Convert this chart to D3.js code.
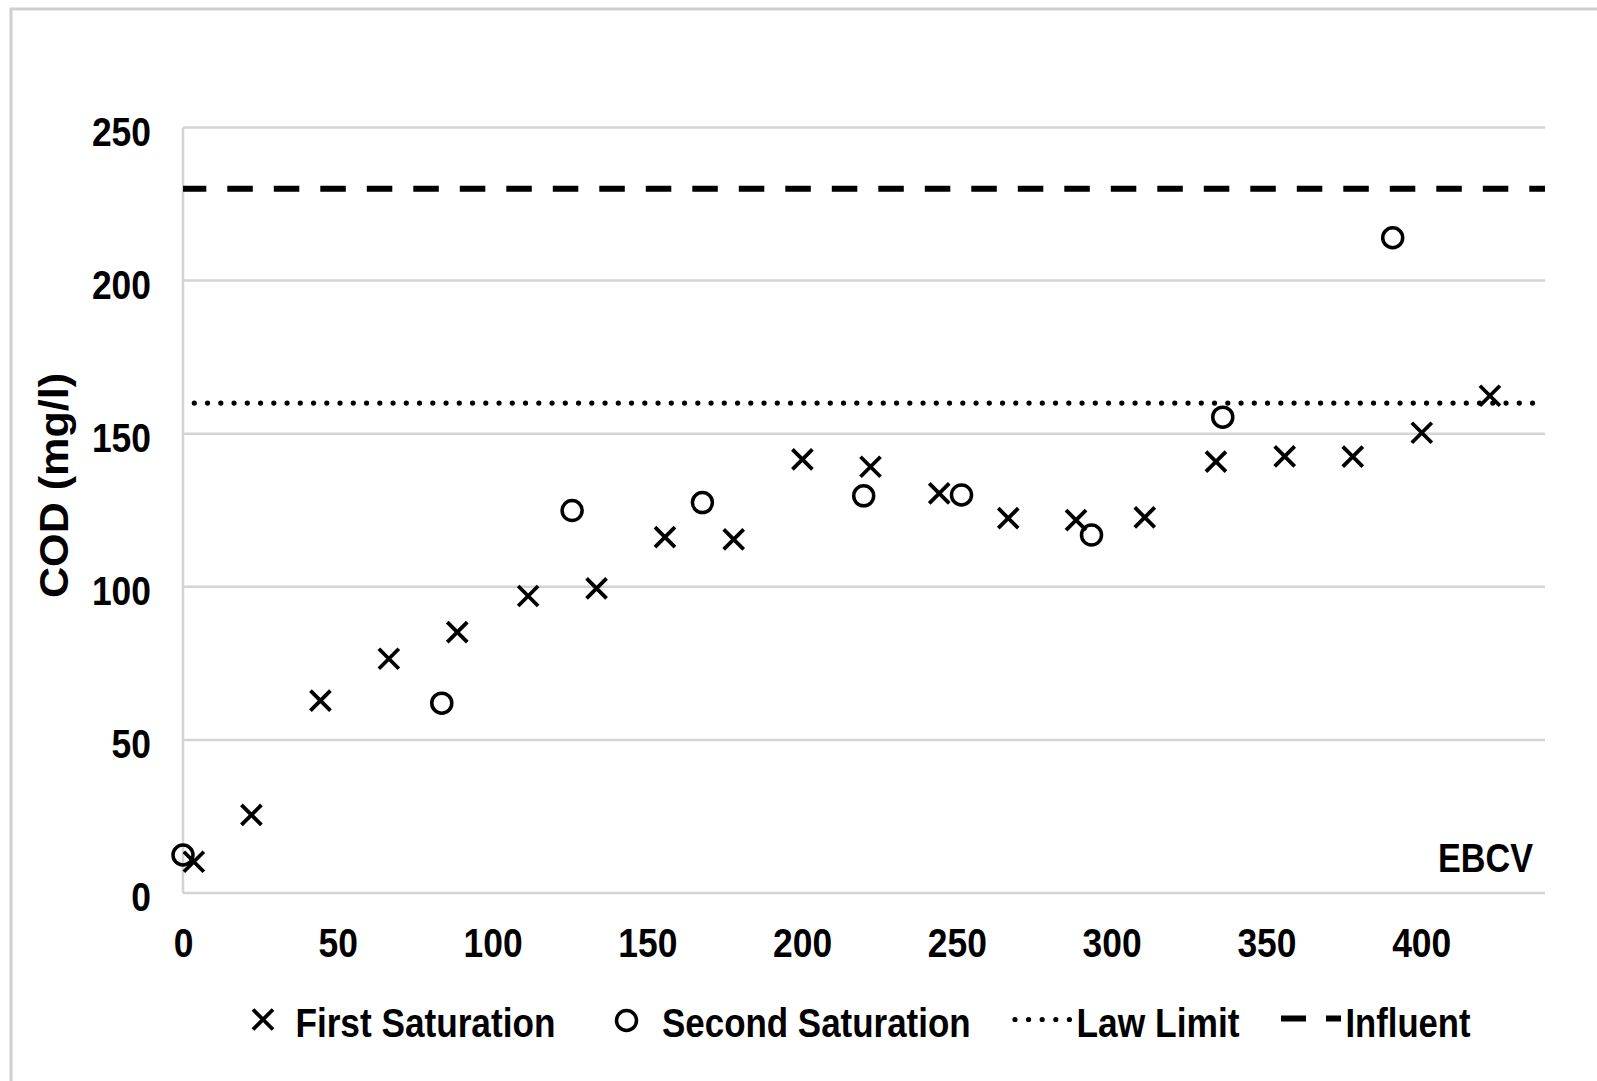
<!DOCTYPE html>
<html>
<head>
<meta charset="utf-8">
<script src="https://cdn.jsdelivr.net/npm/d3@7"></script>
<style>
  html, body { margin: 0; padding: 0; background: #fff; }
  svg { display: block; }
  text { font-family: "Liberation Sans", Arial, sans-serif; font-weight: bold; fill: #000; }
</style>
</head>
<body>
<svg id="chart" width="1597" height="1081"></svg>
<script>
// EBCV (bed volumes) vs. effluent COD for the two saturation runs
const firstX  = [3.5, 22.1, 44.4, 66.5, 88.6, 111.5, 133.6, 155.7, 177.9, 200.1, 222.1, 244.3, 266.6, 288.5, 310.7, 333.7, 355.9, 377.9, 400.2, 422.2];
const firstY  = [10.2, 25.5, 62.8, 76.5, 85.2, 97.0, 99.5, 116.2, 115.5, 141.6, 139.2, 130.5, 122.4, 121.8, 122.7, 140.9, 142.6, 142.5, 150.3, 162.4];
const secondX = [0, 83.6, 125.7, 167.8, 219.9, 251.5, 293.5, 335.9, 390.8];
const secondY = [12.4, 62.0, 124.9, 127.5, 129.7, 130.0, 116.9, 155.4, 214.0];
const lawLimit = 160;
const influent = 230;
const xTicks = [0, 50, 100, 150, 200, 250, 300, 350, 400];
const yTicks = [0, 50, 100, 150, 200, 250];
const legendLabels = ["First Saturation", "Second Saturation", "Law Limit", "Influent"];
const yTitle = "COD (mg/l)";
const cornerLabel = "EBCV";

const svg = d3.select("#chart");
const GRID = "#d4d4d4";
const plotLeft = 183, plotRight = 1545, plotTop = 127.5, plotBottom = 893;

const x = d3.scaleLinear().domain([0, 440]).range([plotLeft, plotRight]);
const y = d3.scaleLinear().domain([0, 250]).range([plotBottom, plotTop]);

// narrow the bold face horizontally, like a condensed typeface
function condense(sel, factor) {
  sel.each(function () {
    const w = this.getComputedTextLength();
    d3.select(this).attr("textLength", w * factor).attr("lengthAdjust", "spacingAndGlyphs");
  });
}

svg.append("rect").attr("width", 1597).attr("height", 1081).attr("fill", "#fff");

// frame (only top and left edges fall inside the canvas)
svg.append("rect")
  .attr("x", 11).attr("y", 9).attr("width", 2000).attr("height", 2000)
  .attr("fill", "none").attr("stroke", "#cfcfcf").attr("stroke-width", 3);

// horizontal gridlines
svg.append("g").selectAll("line").data(yTicks).join("line")
  .attr("x1", plotLeft).attr("x2", plotRight)
  .attr("y1", d => y(d)).attr("y2", d => y(d))
  .attr("stroke", GRID).attr("stroke-width", 2.5);

// vertical axis line
svg.append("line")
  .attr("x1", plotLeft).attr("x2", plotLeft).attr("y1", y(0)).attr("y2", y(250))
  .attr("stroke", GRID).attr("stroke-width", 2.5);

// axes (labels only)
const gx = svg.append("g").attr("transform", `translate(0,${plotBottom})`)
  .call(d3.axisBottom(x).tickValues(xTicks).tickSize(0).tickPadding(35.3));
gx.select(".domain").remove();
gx.selectAll("text").attr("font-size", 40).attr("font-family", "Liberation Sans, Arial, sans-serif")
  .attr("font-weight", "bold").attr("fill", "#000");

const gy = svg.append("g").attr("transform", `translate(${plotLeft},0)`)
  .call(d3.axisLeft(y).tickValues(yTicks).tickSize(0).tickPadding(32));
gy.select(".domain").remove();
gy.selectAll("text").attr("font-size", 40).attr("dy", "0.44em")
  .attr("font-family", "Liberation Sans, Arial, sans-serif")
  .attr("font-weight", "bold").attr("fill", "#000");

condense(gx.selectAll("text"), 0.885);
condense(gy.selectAll("text"), 0.885);

// y-axis title
svg.append("text")
  .attr("transform", `translate(68,485.5) rotate(-90)`)
  .attr("text-anchor", "middle").attr("font-size", 40)
  .attr("textLength", 225).attr("lengthAdjust", "spacingAndGlyphs")
  .text(yTitle);

// corner label
svg.append("text")
  .attr("x", 1533).attr("y", 872).attr("text-anchor", "end").attr("font-size", 40)
  .attr("textLength", 95).attr("lengthAdjust", "spacingAndGlyphs")
  .text(cornerLabel);

// reference lines
const refLine = d3.line().x(d => x(d[0])).y(d => y(d[1]));
svg.append("path")
  .attr("d", refLine([[0, influent], [440, influent]]))
  .attr("stroke", "#000").attr("stroke-width", 6).attr("fill", "none")
  .attr("stroke-dasharray", "25.5 21").attr("stroke-dashoffset", 2.2);
svg.append("path")
  .attr("d", refLine([[0, lawLimit], [440, lawLimit]]))
  .attr("stroke", "#000").attr("stroke-width", 5.2).attr("fill", "none")
  .attr("stroke-linecap", "round")
  .attr("stroke-dasharray", "0 13.25").attr("stroke-dashoffset", 1.95);

// markers
const arm = 10;
function crossPath(cx, cy) {
  return `M${cx - arm},${cy - arm}L${cx + arm},${cy + arm}M${cx - arm},${cy + arm}L${cx + arm},${cy - arm}`;
}
const first = firstX.map((v, i) => ({ x: v, y: firstY[i] }));
const second = secondX.map((v, i) => ({ x: v, y: secondY[i] }));

svg.append("g").selectAll("path").data(first).join("path")
  .attr("d", d => crossPath(x(d.x), y(d.y)))
  .attr("stroke", "#000").attr("stroke-width", 3.8).attr("fill", "none");

svg.append("g").selectAll("circle").data(second).join("circle")
  .attr("cx", d => x(d.x)).attr("cy", d => y(d.y)).attr("r", 10)
  .attr("stroke", "#000").attr("stroke-width", 3.5).attr("fill", "none");

// legend
const lg = svg.append("g");
const base = 1036.7, sy = 1019.5;
lg.append("path").attr("d", crossPath(263, sy)).attr("stroke", "#000").attr("stroke-width", 3.8);
lg.append("text").attr("x", 295.4).attr("y", base).attr("font-size", 40)
  .attr("textLength", 260).attr("lengthAdjust", "spacingAndGlyphs").text(legendLabels[0]);
lg.append("circle").attr("cx", 626.5).attr("cy", sy + 1).attr("r", 10)
  .attr("stroke", "#000").attr("stroke-width", 3.5).attr("fill", "none");
lg.append("text").attr("x", 662).attr("y", base).attr("font-size", 40)
  .attr("textLength", 308.6).attr("lengthAdjust", "spacingAndGlyphs").text(legendLabels[1]);
lg.append("line").attr("x1", 1015).attr("x2", 1071).attr("y1", sy).attr("y2", sy)
  .attr("stroke", "#000").attr("stroke-width", 5.2).attr("stroke-linecap", "round")
  .attr("stroke-dasharray", "0 13.6");
lg.append("text").attr("x", 1076.5).attr("y", base).attr("font-size", 40)
  .attr("textLength", 163).attr("lengthAdjust", "spacingAndGlyphs").text(legendLabels[2]);
lg.append("line").attr("x1", 1281).attr("x2", 1341).attr("y1", sy - 1).attr("y2", sy - 1)
  .attr("stroke", "#000").attr("stroke-width", 6).attr("stroke-dasharray", "25 20");
lg.append("text").attr("x", 1345.5).attr("y", base).attr("font-size", 40)
  .attr("textLength", 125).attr("lengthAdjust", "spacingAndGlyphs").text(legendLabels[3]);
</script>
</body>
</html>
